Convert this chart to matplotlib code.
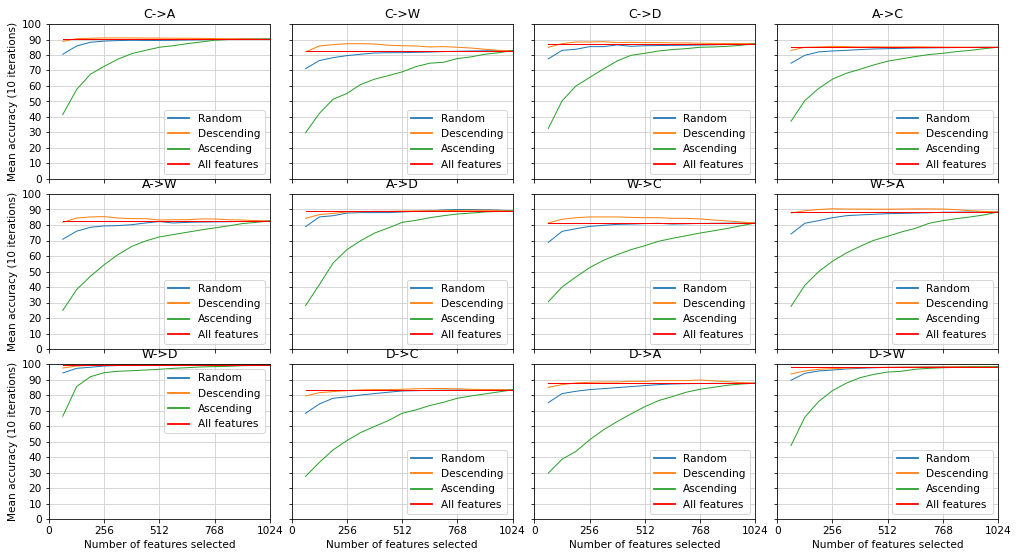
import numpy as np
import matplotlib
matplotlib.use("Agg")
import matplotlib.pyplot as plt

# number of features kept at each step
n_features = list(range(64, 1025, 64))

titles = ["C->A", "C->W", "C->D", "A->C",
          "A->W", "A->D", "W->C", "W->A",
          "W->D", "D->C", "D->A", "D->W"]

# accuracy with all 1024 features
all_features = [90.3, 82.8, 87.3, 85.0,
                82.6, 89.0, 81.3, 88.4,
                99.4, 83.3, 87.6, 98.3]

random_acc = [
    [80.5, 85.8, 88.2, 89.0, 89.3, 89.5, 89.4, 89.4, 89.5, 89.7, 89.8, 90.0, 90.1, 90.2, 90.2, 90.3],
    [71.2, 76.4, 78.3, 79.6, 80.5, 81.3, 81.5, 81.5, 81.7, 81.9, 82.2, 82.4, 82.6, 82.7, 82.8, 82.8],
    [77.5, 83.0, 83.7, 85.4, 85.4, 86.5, 85.6, 86.0, 86.1, 86.2, 86.3, 86.4, 86.6, 86.8, 87.0, 87.3],
    [74.7, 79.8, 82.0, 82.6, 83.0, 83.5, 83.9, 84.1, 84.3, 84.5, 84.6, 84.7, 84.8, 84.9, 85.0, 85.0],
    [70.8, 76.0, 78.5, 79.4, 79.6, 80.2, 81.3, 82.2, 81.3, 81.7, 81.9, 82.0, 82.1, 82.3, 82.5, 82.6],
    [78.9, 85.2, 86.0, 87.7, 88.0, 88.0, 88.0, 88.4, 88.8, 89.2, 89.7, 90.0, 90.0, 89.8, 89.6, 89.0],
    [68.8, 75.9, 77.6, 79.1, 79.8, 80.4, 80.6, 80.9, 81.1, 80.6, 80.8, 81.0, 81.1, 81.2, 81.3, 81.3],
    [74.2, 81.1, 82.8, 84.7, 86.0, 86.5, 86.9, 87.3, 87.5, 87.7, 87.9, 88.2, 88.3, 88.4, 88.4, 88.4],
    [94.2, 97.2, 97.9, 98.7, 99.0, 99.0, 99.1, 99.2, 99.2, 99.3, 99.3, 99.3, 99.4, 99.4, 99.4, 99.4],
    [68.2, 74.2, 77.9, 78.8, 80.0, 80.9, 81.8, 82.6, 82.8, 83.0, 83.1, 83.2, 83.2, 83.3, 83.3, 83.3],
    [75.1, 80.9, 82.4, 83.5, 84.1, 84.8, 85.4, 86.1, 86.7, 87.1, 87.3, 87.4, 87.5, 87.5, 87.6, 87.6],
    [89.5, 94.0, 95.5, 96.1, 96.8, 97.2, 97.6, 97.8, 97.9, 98.0, 98.1, 98.2, 98.2, 98.3, 98.3, 98.3],
]

descending_acc = [
    [88.8, 90.5, 90.8, 91.0, 91.0, 91.0, 90.9, 90.9, 90.8, 90.8, 90.7, 90.6, 90.5, 90.5, 90.4, 90.3],
    [82.0, 85.8, 86.7, 87.3, 87.3, 87.1, 86.3, 86.0, 85.8, 85.2, 85.4, 85.0, 84.5, 83.7, 83.0, 82.8],
    [85.0, 87.3, 88.4, 88.4, 88.6, 88.0, 88.2, 88.0, 88.0, 87.8, 87.8, 87.6, 87.5, 87.4, 87.4, 87.3],
    [83.0, 85.0, 85.2, 85.6, 85.4, 85.2, 85.3, 85.2, 85.2, 85.3, 85.2, 85.1, 85.1, 85.0, 85.0, 85.0],
    [81.7, 84.5, 85.2, 85.4, 84.5, 84.1, 84.1, 83.2, 83.4, 83.4, 83.9, 83.9, 83.4, 83.2, 82.8, 82.6],
    [84.3, 86.7, 87.5, 88.4, 88.6, 88.8, 88.8, 89.0, 89.1, 89.2, 89.3, 89.4, 89.5, 89.5, 89.4, 89.0],
    [81.3, 83.7, 84.7, 85.2, 85.2, 85.2, 84.9, 84.7, 84.7, 84.3, 84.3, 83.9, 83.2, 82.6, 81.9, 81.3],
    [87.7, 89.2, 90.0, 90.5, 90.3, 90.3, 90.2, 90.2, 90.3, 90.4, 90.4, 90.3, 89.9, 89.2, 88.8, 88.4],
    [97.4, 98.7, 99.1, 99.3, 99.4, 99.4, 99.4, 99.4, 99.4, 99.4, 99.4, 99.4, 99.4, 99.4, 99.4, 99.4],
    [79.4, 81.5, 82.2, 82.8, 83.3, 83.5, 83.5, 83.7, 84.0, 84.2, 84.2, 84.0, 83.7, 83.5, 83.5, 83.3],
    [85.0, 86.7, 87.8, 88.2, 88.4, 88.4, 88.8, 88.8, 89.3, 89.3, 89.3, 89.7, 89.1, 88.6, 88.0, 87.6],
    [93.6, 95.5, 96.6, 97.0, 97.4, 97.6, 97.8, 97.9, 98.0, 98.0, 98.1, 98.1, 98.2, 98.2, 98.3, 98.3],
]

ascending_acc = [
    [41.6, 57.7, 67.6, 72.7, 77.3, 80.9, 83.0, 85.0, 86.0, 87.3, 88.4, 89.5, 90.0, 90.1, 90.2, 90.3],
    [29.8, 42.3, 51.5, 55.2, 61.0, 64.4, 66.7, 69.1, 72.5, 74.7, 75.3, 77.7, 78.8, 80.5, 81.5, 82.8],
    [32.6, 50.4, 60.0, 65.5, 71.0, 76.2, 79.8, 81.1, 82.6, 83.5, 84.1, 85.0, 85.2, 85.6, 86.3, 87.3],
    [37.3, 50.6, 58.4, 64.4, 68.2, 70.8, 73.6, 76.0, 77.5, 79.0, 80.3, 81.1, 82.2, 83.0, 84.1, 85.0],
    [24.9, 38.3, 46.9, 54.4, 60.9, 66.2, 69.7, 72.3, 73.8, 75.3, 76.8, 78.1, 79.4, 80.9, 81.7, 82.6],
    [28.0, 41.5, 55.5, 64.1, 69.9, 74.8, 78.1, 81.7, 83.0, 84.7, 86.0, 87.1, 87.7, 88.4, 88.8, 89.0],
    [30.5, 40.0, 46.5, 52.5, 57.2, 60.9, 64.1, 66.7, 69.5, 71.4, 73.1, 74.8, 76.3, 77.8, 79.6, 81.3],
    [27.5, 41.1, 49.9, 56.6, 61.9, 66.2, 70.1, 72.7, 75.5, 77.8, 81.1, 82.8, 84.1, 85.2, 86.5, 88.4],
    [66.3, 85.4, 91.8, 94.4, 95.3, 95.7, 96.1, 96.6, 97.2, 97.6, 98.1, 98.3, 98.5, 98.9, 99.1, 99.4],
    [27.5, 36.5, 44.6, 50.6, 55.8, 59.7, 63.5, 68.2, 70.4, 73.2, 75.3, 77.9, 79.4, 80.7, 82.0, 83.3],
    [29.6, 38.6, 43.6, 51.1, 57.5, 62.9, 67.8, 72.5, 76.4, 79.0, 81.8, 83.7, 85.0, 86.3, 87.1, 87.6],
    [47.4, 65.7, 75.8, 82.8, 87.6, 91.2, 93.3, 94.8, 95.3, 96.6, 97.2, 97.6, 97.8, 98.0, 98.1, 98.3],
]

fig, axes = plt.subplots(3, 4, figsize=(1016 / 72, 554 / 72), dpi=72, sharex=True, sharey=True)
fig.subplots_adjust(left=49 / 1016, right=998 / 1016, top=1 - 24 / 554, bottom=1 - 519 / 554,
                    wspace=22 / 221, hspace=15 / 155)

for i, ax in enumerate(axes.flat):
    ax.plot(n_features, random_acc[i], color="tab:blue", label="Random", linewidth=1)
    ax.plot(n_features, descending_acc[i], color="tab:orange", label="Descending", linewidth=1)
    ax.plot(n_features, ascending_acc[i], color="tab:green", label="Ascending", linewidth=1)
    ax.plot([n_features[0], 1024], [all_features[i]] * 2, color="red", label="All features", linewidth=1)
    ax.set_title(titles[i], fontsize=12.5)
    ax.grid(True, color="#cccccc")
    ax.set_xlim(0, 1024)
    ax.set_ylim(0, 100)
    ax.set_xticks([0, 256, 512, 768, 1024])
    ax.set_yticks(range(0, 101, 10))
    ax.tick_params(labelleft=(i % 4 == 0), labelbottom=(i >= 8), labelsize=10.5)
    if i % 4 == 0:
        ax.set_ylabel("Mean accuracy (10 iterations)", fontsize=10.5)
    if i >= 8:
        ax.set_xlabel("Number of features selected", fontsize=10.5)
    leg = ax.legend(loc="upper right" if titles[i] == "W->D" else "lower right", fontsize=10.5)
    for line in leg.get_lines():
        line.set_linewidth(1.8)

fig.savefig("out.png", dpi=72)
